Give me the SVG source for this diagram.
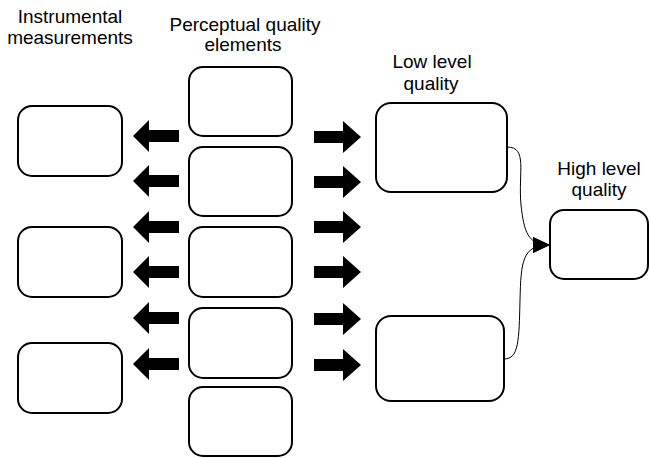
<svg xmlns="http://www.w3.org/2000/svg" width="650" height="458" viewBox="0 0 650 458">
<defs>
<style>
.box{fill:#fff;stroke:#000;stroke-width:2}
.lbl{font-family:"Liberation Sans",Arial,sans-serif;font-size:19px;fill:#000;text-anchor:middle}
.fat{fill:#000}
.con{fill:none;stroke:#000;stroke-width:1}
</style>
<marker id="ah" markerWidth="17" markerHeight="16" refX="16" refY="8" orient="auto" markerUnits="userSpaceOnUse">
<path d="M0,0 L17,8 L0,16 Z" fill="#000"/>
</marker>
<path id="la" d="M0,0 L16,-16 L16,-6 L46,-6 L46,6 L16,6 L16,16 Z"/>
<path id="ra" d="M0,0 L-18,-16 L-18,-6 L-47,-6 L-47,6 L-18,6 L-18,16 Z"/>
</defs>
<rect width="650" height="458" fill="#fff"/>
<text class="lbl" x="70" y="23">Instrumental</text>
<text class="lbl" x="70" y="44">measurements</text>
<text class="lbl" x="245" y="31">Perceptual quality</text>
<text class="lbl" x="243" y="51">elements</text>
<text class="lbl" x="432" y="68">Low level</text>
<text class="lbl" x="431" y="90">quality</text>
<text class="lbl" x="599" y="175">High level</text>
<text class="lbl" x="599" y="196">quality</text>
<g id="im1"><rect class="box" x="18" y="106" width="104" height="70" rx="14"/></g>
<g id="im2"><rect class="box" x="18" y="227" width="104" height="70" rx="14"/></g>
<g id="im3"><rect class="box" x="18" y="343" width="104" height="70" rx="14"/></g>
<g id="pq1"><rect class="box" x="189" y="67" width="103" height="69" rx="14"/></g>
<g id="pq2"><rect class="box" x="189" y="147" width="103" height="69" rx="14"/></g>
<g id="pq3"><rect class="box" x="189" y="227" width="103" height="70" rx="14"/></g>
<g id="pq4"><rect class="box" x="189" y="308" width="103" height="70" rx="14"/></g>
<g id="pq5"><rect class="box" x="189" y="387" width="103" height="69" rx="14"/></g>
<g id="ll1"><rect class="box" x="376" y="103" width="131" height="89" rx="15"/></g>
<g id="ll2"><rect class="box" x="376" y="316" width="128" height="85" rx="15"/></g>
<g id="hl"><rect class="box" x="550" y="210" width="98" height="69" rx="14"/></g>
<g id="connectors">
<use href="#la" class="fat" x="133" y="136"/>
<use href="#la" class="fat" x="133" y="181"/>
<use href="#la" class="fat" x="133" y="227"/>
<use href="#la" class="fat" x="133" y="272"/>
<use href="#la" class="fat" x="133" y="318"/>
<use href="#la" class="fat" x="133" y="364"/>
<use href="#ra" class="fat" x="361" y="137"/>
<use href="#ra" class="fat" x="361" y="182"/>
<use href="#ra" class="fat" x="361" y="227"/>
<use href="#ra" class="fat" x="361" y="272"/>
<use href="#ra" class="fat" x="361" y="319"/>
<use href="#ra" class="fat" x="361" y="365"/>
<path class="con" d="M507,147 C528,147 518,172 521,205 C524,232 528,245 549,245" marker-end="url(#ah)"/>
<path class="con" d="M504,359 C519,359 519,340 520,300 C521,262 522,245 549,245" marker-end="url(#ah)"/>
</g>
</svg>
